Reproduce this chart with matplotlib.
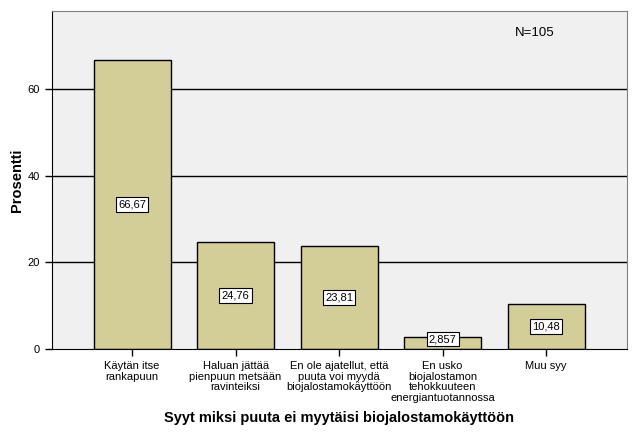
import numpy as np
import matplotlib.pyplot as plt

plt.rcParams['font.family'] = ['Liberation Sans', 'DejaVu Sans']

categories = ['Käytän itse\nrankapuun',
              'Haluan jättää\npienpuun metsään\nravinteiksi',
              'En ole ajatellut, että\npuuta voi myydä\nbiojalostamokäyttöön',
              'En usko\nbiojalostamon\ntehokkuuteen\nenergiantuotannossa',
              'Muu syy']
values = [66.67, 24.76, 23.81, 2.857, 10.48]
labels = ['66,67', '24,76', '23,81', '2,857', '10,48']
yticks = [0, 20, 40, 60]

fig = plt.figure(figsize=(6.34, 4.45), dpi=100)
ax = fig.add_axes([52/634, 1-349/445, 575/634, 338/445])
ax.set_facecolor('#F0F0F0')

x = np.arange(len(values))
for t in yticks[1:]:
    ax.axhline(t, color='black', lw=1, zorder=1)
ax.bar(x, values, width=0.744, color='#D3CE97', edgecolor='black', lw=1, zorder=2)

for xi, v, lab in zip(x, values, labels):
    ax.text(xi, max(v/2, 2.3), lab, ha='center', va='center', fontsize=8, zorder=3,
            bbox=dict(boxstyle='square,pad=0.2', fc='white', ec='black', lw=0.8))

ax.set_xlim(-0.773, 4.78)
ax.set_ylim(0, 78)
ax.set_yticks(yticks)
ax.set_yticklabels([str(t) for t in yticks], fontsize=8)
ax.set_xticks(x)
ax.set_xticklabels(categories, fontsize=8, linespacing=1.1)
ax.tick_params(axis='both', length=5, width=1, color='black')
for s in ['top', 'right']:
    ax.spines[s].set_color('#808080')
for s in ['left', 'bottom']:
    ax.spines[s].set_color('black')

ax.set_ylabel('Prosentti', fontsize=10.5, fontweight='bold', va='center')
ax.yaxis.set_label_coords(-0.061, 0.5)
fig.text((52+575/2)/634, 1-418/445, 'Syyt miksi puuta ei myytäisi biojalostamokäyttöön',
         ha='center', va='center', fontsize=10.5, fontweight='bold')
fig.text(535/634, 1-33/445, 'N=105', fontsize=9.5, va='center', ha='center')

fig.savefig('out.png', dpi=100)
